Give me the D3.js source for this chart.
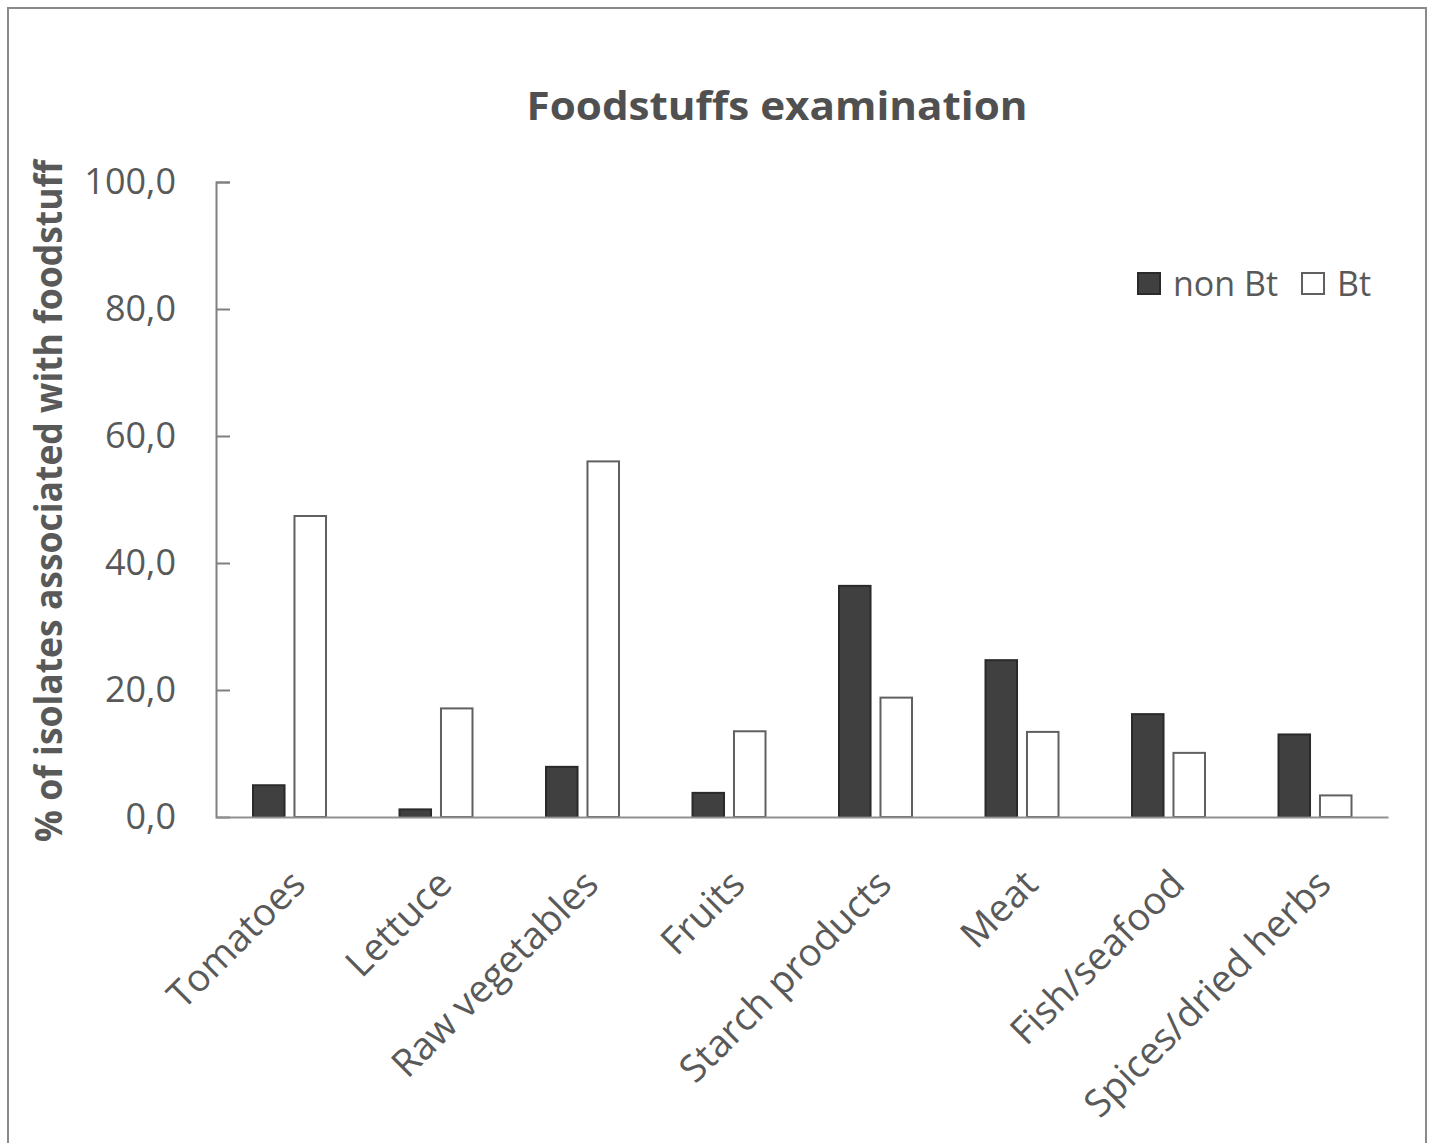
<!DOCTYPE html>
<html>
<head>
<meta charset="utf-8">
<script src="https://cdn.jsdelivr.net/npm/d3@7"></script>
<style>
  body { margin: 0; background: #fff; }
  text { font-family: "Open Sans", "Noto Sans", sans-serif; }
</style>
</head>
<body>
<svg id="chart" width="1429" height="1143"></svg>
<script>
const categories = ["Tomatoes", "Lettuce", "Raw vegetables", "Fruits", "Starch products", "Meat", "Fish/seafood", "Spices/dried herbs"];
const nonBt = [5.0, 1.2, 7.9, 3.8, 36.4, 24.7, 16.2, 13.0];
const bt = [47.4, 17.1, 56.0, 13.5, 18.8, 13.4, 10.1, 3.4];
const seriesNames = ["non Bt", "Bt"];
const yTicks = [0, 20, 40, 60, 80, 100];

const svg = d3.select("#chart");

// outer frame (bottom edge is cut off in the original)
svg.append("path")
  .attr("d", "M8,1150 V8 H1426 V1150")
  .attr("fill", "none")
  .attr("stroke", "#8a8a8a")
  .attr("stroke-width", 2);

const x = d3.scaleBand().domain(categories).range([216, 1388]);
const y = d3.scaleLinear().domain([0, 100]).range([817, 182]);

// title
svg.append("text")
  .attr("x", 777).attr("y", 120)
  .attr("text-anchor", "middle")
  .attr("font-size", 40).attr("font-weight", "bold")
  .attr("fill", "#505050")
  .attr("textLength", 501).attr("lengthAdjust", "spacingAndGlyphs")
  .text("Foodstuffs examination");

// y axis title
svg.append("text")
  .attr("transform", "translate(62,501) rotate(-90)")
  .attr("text-anchor", "middle")
  .attr("font-size", 38).attr("font-weight", "bold")
  .attr("fill", "#595959")
  .attr("textLength", 682).attr("lengthAdjust", "spacingAndGlyphs")
  .text("% of isolates associated with foodstuff");

// y axis
const yAxis = svg.append("g").attr("transform", "translate(216,0)")
  .call(d3.axisRight(y).tickValues(yTicks).tickSize(14).tickFormat(d => d3.format(".1f")(d).replace(".", ",")));
yAxis.select(".domain").attr("stroke", "#808080").attr("stroke-width", 2);
yAxis.selectAll(".tick line").attr("stroke", "#808080").attr("stroke-width", 2);
yAxis.selectAll(".tick text")
  .attr("x", -40).attr("text-anchor", "end")
  .attr("font-size", 36).attr("fill", "#595959");
yAxis.selectAll(".tick").filter(d => d === 0).select("line").remove();

// bars
const sub = d3.scaleBand().domain(seriesNames).range([37, 110]).paddingInner(0.24);
const rows = categories.map((c, i) => ({cat: c, vals: [nonBt[i], bt[i]]}));

const groups = svg.append("g").selectAll("g").data(rows).join("g")
  .attr("transform", d => `translate(${x(d.cat)},0)`);

groups.selectAll("rect")
  .data(d => d.vals.map((v, j) => ({name: seriesNames[j], v: v})))
  .join("rect")
  .attr("x", d => sub(d.name))
  .attr("width", sub.bandwidth())
  .attr("y", d => y(d.v))
  .attr("height", d => y(0) - y(d.v))
  .attr("fill", d => d.name === "non Bt" ? "#404040" : "#ffffff")
  .attr("stroke", d => d.name === "non Bt" ? "#2a2a2a" : "#606060")
  .attr("stroke-width", 2);

// x axis
const xAxis = svg.append("g").attr("transform", "translate(0,817)")
  .call(d3.axisBottom(x).tickSize(0).tickSizeOuter(0));
xAxis.select(".domain").attr("stroke", "#909090").attr("stroke-width", 2);
xAxis.selectAll(".tick text")
  .attr("font-size", 38).attr("fill", "#595959")
  .attr("text-anchor", "end")
  .attr("y", 0).attr("dy", "0.35em")
  .attr("transform", "translate(9,60) rotate(-45)");

// legend
const legend = svg.append("g");
const legX = [1138, 1302];
seriesNames.forEach((s, i) => {
  legend.append("rect")
    .attr("x", legX[i]).attr("y", 273)
    .attr("width", 22).attr("height", 21)
    .attr("fill", i === 0 ? "#404040" : "#ffffff")
    .attr("stroke", i === 0 ? "#2a2a2a" : "#606060")
    .attr("stroke-width", 2);
  legend.append("text")
    .attr("x", legX[i] + 35).attr("y", 296)
    .attr("font-size", 34).attr("fill", "#595959")
    .text(s);
});
</script>
</body>
</html>
